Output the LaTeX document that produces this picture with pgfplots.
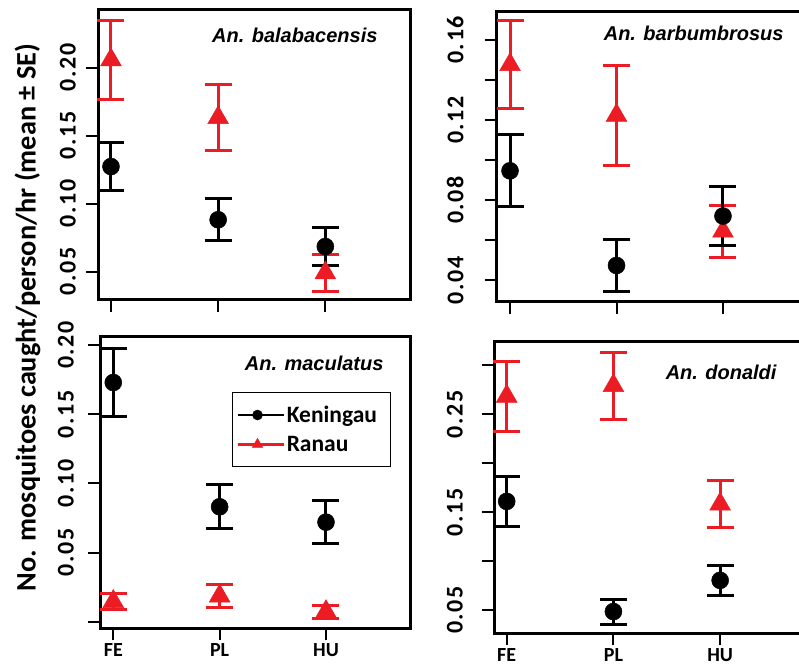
\documentclass[border=0pt]{standalone}
\usepackage{pgfplots}
\usepackage{pgfplotstable}
\pgfplotsset{compat=1.18}
\usepackage{fontspec}
\setmainfont{Carlito}
\newfontfamily\arialf{Liberation Sans}
\newfontfamily\tickfont[LetterSpace=7]{Carlito}
\definecolor{myred}{RGB}{235,28,36}

% panel 1: An. balabacensis
\pgfplotstableread{
x y e
1 0.1273 0.0177
2 0.0882 0.0156
3 0.0685 0.0141
}\balK
\pgfplotstableread{
x y e
1 0.2057 0.0289
2 0.1632 0.0242
3 0.0491 0.0133
}\balR
% panel 2: An. barbumbrosus
\pgfplotstableread{
x y e
1 0.0946 0.0179
2 0.0473 0.0128
3 0.0720 0.0148
}\barK
\pgfplotstableread{
x y e
1 0.1476 0.0221
2 0.1223 0.0248
3 0.0644 0.0131
}\barR
% panel 3: An. maculatus
\pgfplotstableread{
x y e
1 0.1729 0.0247
2 0.0831 0.0160
3 0.0720 0.0153
}\macK
\pgfplotstableread{
x y e
1 0.0146 0.0056
2 0.0186 0.0081
3 0.0073 0.0048
}\macR
% panel 4: An. donaldi
\pgfplotstableread{
x y e
1 0.1610 0.0259
2 0.0484 0.0127
3 0.0803 0.0157
}\donK
\pgfplotstableread{
x y e
1 0.2684 0.0355
2 0.2793 0.0341
3 0.1582 0.0237
}\donR

\newcommand{\tl}[1]{\mbox{\tickfont\bfseries\fontsize{24}{24}\selectfont #1}}

\pgfplotsset{
  panel/.style={
    scale only axis, anchor=south west,
    axis line style={line width=3pt},
    xtick={1,2,3}, xtick pos=bottom, ytick pos=left,
    tick align=outside, major tick length=12pt,
    every tick/.style={black, line width=2pt},
    yticklabel style={rotate=90, anchor=south, inner sep=0pt},
    xticklabel style={font=\bfseries\fontsize{20}{20}\selectfont},
    clip=false,
  },
  kmark/.style={only marks, black, mark=*, mark size=8.5pt, mark options={line width=0.5pt, fill=black}},
  rmark/.style={only marks, myred, mark=triangle*, mark size=12pt, mark options={line width=0.5pt, fill=myred}},
}

\begin{document}
\begin{tikzpicture}
\useasboundingbox (0,0) rectangle (799pt,667pt);
\clip (0,0) rectangle (799pt,667pt);

% ---------- panel 1
\begin{axis}[panel, at={(98pt,367pt)}, width=312pt, height=290pt,
  xmin=0.879, xmax=3.79, ymin=0.0292, ymax=0.2424,
  xticklabels={},
  ytick={0.05,0.10,0.15,0.20}, yticklabels={\tl{0.05},\tl{0.10},\tl{0.15},\tl{0.20}},
  yticklabel shift=10pt]
\addplot[rmark, error bars/.cd, y dir=both, y explicit,
  error bar style={line width=3pt, myred},
  error mark options={rotate=90, mark size=13.5pt, line width=3pt, myred}]
  table[x=x, y=y, y error=e] {\balR};
\addplot[kmark, error bars/.cd, y dir=both, y explicit,
  error bar style={line width=3pt, black},
  error mark options={rotate=90, mark size=13.5pt, line width=3pt, black}]
  table[x=x, y=y, y error=e] {\balK};
\end{axis}

% ---------- panel 2
\begin{axis}[panel, at={(496.7pt,365.3pt)}, width=310.4pt, height=290pt,
  xmin=0.875, xmax=3.79, ymin=0.0292, ymax=0.1741,
  xticklabels={},
  ytick={0.04,0.06,0.08,0.10,0.12,0.14,0.16}, yticklabels={\tl{0.04},,\tl{0.08},,\tl{0.12},,\tl{0.16}},
  yticklabel shift=21pt]
\addplot[rmark, error bars/.cd, y dir=both, y explicit,
  error bar style={line width=3pt, myred},
  error mark options={rotate=90, mark size=13.5pt, line width=3pt, myred}]
  table[x=x, y=y, y error=e] {\barR};
\addplot[kmark, error bars/.cd, y dir=both, y explicit,
  error bar style={line width=3pt, black},
  error mark options={rotate=90, mark size=13.5pt, line width=3pt, black}]
  table[x=x, y=y, y error=e] {\barK};
\end{axis}

% ---------- panel 3
\begin{axis}[panel, at={(100pt,38.7pt)}, width=310pt, height=291.6pt,
  xmin=0.875, xmax=3.79, ymin=-0.0047, ymax=0.206,
  xticklabels={FE,PL,HU},
  ytick={0,0.05,0.10,0.15,0.20}, yticklabels={,\tl{0.05},\tl{0.10},\tl{0.15},\tl{0.20}},
  yticklabel shift=14pt,
  legend style={at={(0.425,0.812)}, anchor=north west, draw=black, line width=1pt,
    font=\bfseries\fontsize{23.5}{23.5}\selectfont, inner xsep=4pt, inner ysep=12pt, row sep=8pt},
  legend cell align=left,
  legend image code/.code={
    \path (0pt,0pt) -- (46pt,0pt);
    \draw[#1] (0pt,0pt) -- (40pt,0pt);
    \draw[#1, only marks] plot coordinates {(20pt,0pt)};}]
\addlegendimage{black, line width=2.5pt, mark=*, mark size=5pt, mark options={fill=black, line width=0.5pt}}
\addlegendentry{Keningau\kern8pt\rule{0pt}{1pt}}
\addlegendimage{myred, line width=2.5pt, mark=triangle*, mark size=6pt, mark options={fill=myred, line width=0.5pt}}
\addlegendentry{Ranau}
\addplot[rmark, forget plot, error bars/.cd, y dir=both, y explicit,
  error bar style={line width=3pt, myred},
  error mark options={rotate=90, mark size=13.5pt, line width=3pt, myred}]
  table[x=x, y=y, y error=e] {\macR};
\addplot[kmark, forget plot, error bars/.cd, y dir=both, y explicit,
  error bar style={line width=3pt, black},
  error mark options={rotate=90, mark size=13.5pt, line width=3pt, black}]
  table[x=x, y=y, y error=e] {\macK};
\end{axis}

% ---------- panel 4
\begin{axis}[panel, at={(494pt,33.7pt)}, width=310pt, height=291.6pt,
  xmin=0.881, xmax=3.786, ymin=0.0262, ymax=0.3242,
  xticklabels={FE,PL,HU},
  ytick={0.05,0.10,0.15,0.20,0.25,0.30}, yticklabels={\tl{0.05},,\tl{0.15},,\tl{0.25},},
  yticklabel shift=19pt]
\addplot[rmark, error bars/.cd, y dir=both, y explicit,
  error bar style={line width=3pt, myred},
  error mark options={rotate=90, mark size=13.5pt, line width=3pt, myred}]
  table[x=x, y=y, y error=e] {\donR};
\addplot[kmark, error bars/.cd, y dir=both, y explicit,
  error bar style={line width=3pt, black},
  error mark options={rotate=90, mark size=13.5pt, line width=3pt, black}]
  table[x=x, y=y, y error=e] {\donK};
\end{axis}

% titles
\node[anchor=east, font=\arialf\bfseries\itshape\fontsize{20}{20}\selectfont] at (381pt,632pt) {An. balabacensis};
\node[anchor=east, font=\arialf\bfseries\itshape\fontsize{20}{20}\selectfont] at (787pt,634pt) {An. barbumbrosus};
\node[anchor=east, font=\arialf\bfseries\itshape\fontsize{20}{20}\selectfont] at (387pt,304pt) {An. maculatus};
\node[anchor=east, font=\arialf\bfseries\itshape\fontsize{20}{20}\selectfont] at (780pt,295pt) {An. donaldi};

% y label
\node[rotate=90, font=\bfseries\fontsize{28.3}{28.3}\selectfont] at (27.5pt,349.5pt) {No. mosquitoes caught/person/hr (mean ± SE)};
\end{tikzpicture}
\end{document}
